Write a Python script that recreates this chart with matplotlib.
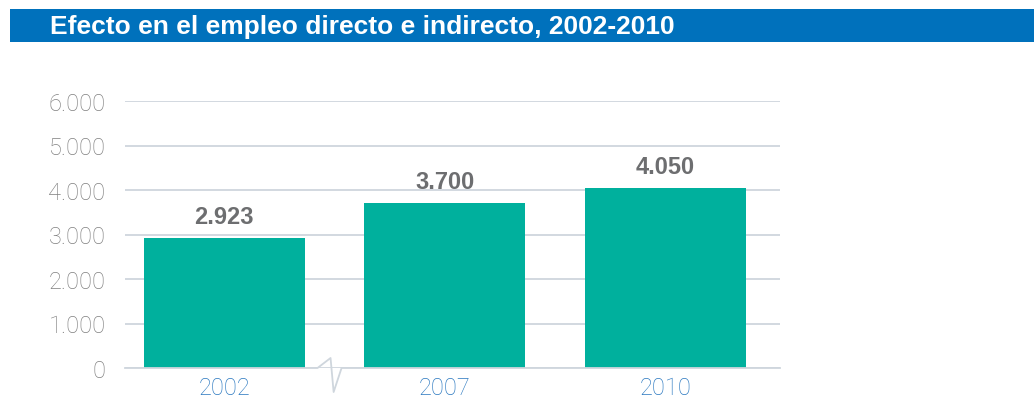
import matplotlib.pyplot as plt
from matplotlib.patches import Rectangle

# datos
anios = ['2002', '2007', '2010']
empleo = [2923, 3700, 4050]
etiquetas = ['2.923', '3.700', '4.050']
ticks_y = [0, 1000, 2000, 3000, 4000, 5000, 6000]
ticks_y_lbl = ['0', '1.000', '2.000', '3.000', '4.000', '5.000', '6.000']

W, H = 1034, 402
fig = plt.figure(figsize=(W / 100, H / 100), dpi=100)

# barra azul del titulo
fig.patches.append(Rectangle((10 / W, 1 - 43 / H), 1 - 10 / W, 33 / H,
                             transform=fig.transFigure, facecolor='#0071bc',
                             edgecolor='none'))
fig.text(50 / W, 1 - 27 / H, 'Efecto en el empleo directo e indirecto, 2002-2010',
         color='white', fontsize=19, fontweight='bold', va='center', ha='left',
         family='Liberation Sans')

# ejes
ax = fig.add_axes([125 / W, 1 - 369 / H, (780 - 125) / W, (369 - 102) / H])
x = list(range(len(anios)))
ax.bar(x, empleo, width=0.73, color='#00b09d', zorder=3)
for xi, v, t in zip(x, empleo, etiquetas):
    ax.text(xi, v + 230, t, ha='center', va='bottom', fontsize=17,
            fontweight='bold', color='#6d6e70', family='Liberation Sans')

ax.set_xlim(-0.45, 2.52)
ax.set_ylim(0, 6000)
ax.set_yticks(ticks_y)
ax.set_yticklabels(ticks_y_lbl)
ax.set_xticks(x)
ax.set_xticklabels(anios)
ax.tick_params(axis='y', length=0, pad=14, labelsize=17, labelcolor='#808080')
ax.tick_params(axis='x', length=0, pad=6, labelsize=17, labelcolor='#2a78c0')
for lbl in ax.get_yticklabels() + ax.get_xticklabels():
    lbl.set_family('Roboto')
    lbl.set_fontweight('light')
ax.grid(axis='y', color='#cfd6dd', linewidth=1.3, zorder=0)
ax.set_axisbelow(True)
for s in ax.spines.values():
    s.set_visible(False)

# marca de corte en el eje
ax.plot([-0.45, 0.423, 0.482, 0.496, 0.532, 2.52], [0, 0, 225, -540, 0, 0],
        color='#cfd6dd', linewidth=1.3, clip_on=False, zorder=4)

fig.savefig('out.png', dpi=100)
